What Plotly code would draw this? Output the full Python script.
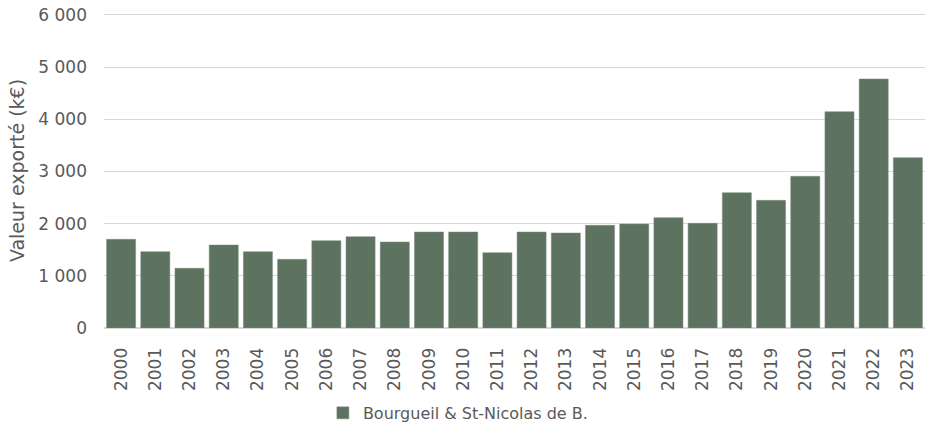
import plotly.graph_objects as go

years = [str(y) for y in range(2000, 2024)]
values = [1700, 1463, 1145, 1591, 1463, 1316, 1674, 1750, 1648, 1840, 1840, 1444,
          1840, 1821, 1968, 1993, 2115, 2006, 2594, 2447, 2908, 4146, 4773, 3265]
series_name = "Bourgueil & St-Nicolas de B."
y_ticks = [0, 1000, 2000, 3000, 4000, 5000, 6000]

font_family = "DejaVu Sans, sans-serif"
grey = "#595959"

fig = go.Figure(go.Bar(
    x=years, y=values, name=series_name,
    marker=dict(color="#5e7260", line=dict(color="#7a8c7c", width=0.5)),
    showlegend=True,
))

fig.update_layout(
    width=925, height=427,
    margin=dict(l=104, r=0, t=13, b=99, autoexpand=False),
    plot_bgcolor="white", paper_bgcolor="white",
    bargap=0.15,
    separators=", ",
    font=dict(family=font_family, color=grey, size=17),
    showlegend=True,
    legend=dict(orientation="h", xref="container", yref="container",
                x=0.495, xanchor="center", y=0.033, yanchor="middle",
                font=dict(size=16, color=grey)),
    xaxis=dict(type="category", tickangle=-90, showgrid=False,
               showline=True, linecolor="#d9d9d9", linewidth=1,
               ticks="", ticklabelstandoff=12,
               tickfont=dict(size=17, color=grey)),
    yaxis=dict(range=[0, 6038], tickvals=y_ticks, tickformat=",d",
               showgrid=True, gridcolor="#d9d9d9", gridwidth=1,
               zeroline=True, zerolinecolor="#d9d9d9",
               showline=False, ticks="", ticklabelstandoff=16,
               tickfont=dict(size=17, color=grey),
               title=dict(text="Valeur exporté (k€)", standoff=8,
                          font=dict(size=19, color=grey))),
)

fig.write_html("out.html",
               config={"displayModeBar": False},
               post_script="document.body.style.margin='0';document.body.style.overflow='hidden';")
